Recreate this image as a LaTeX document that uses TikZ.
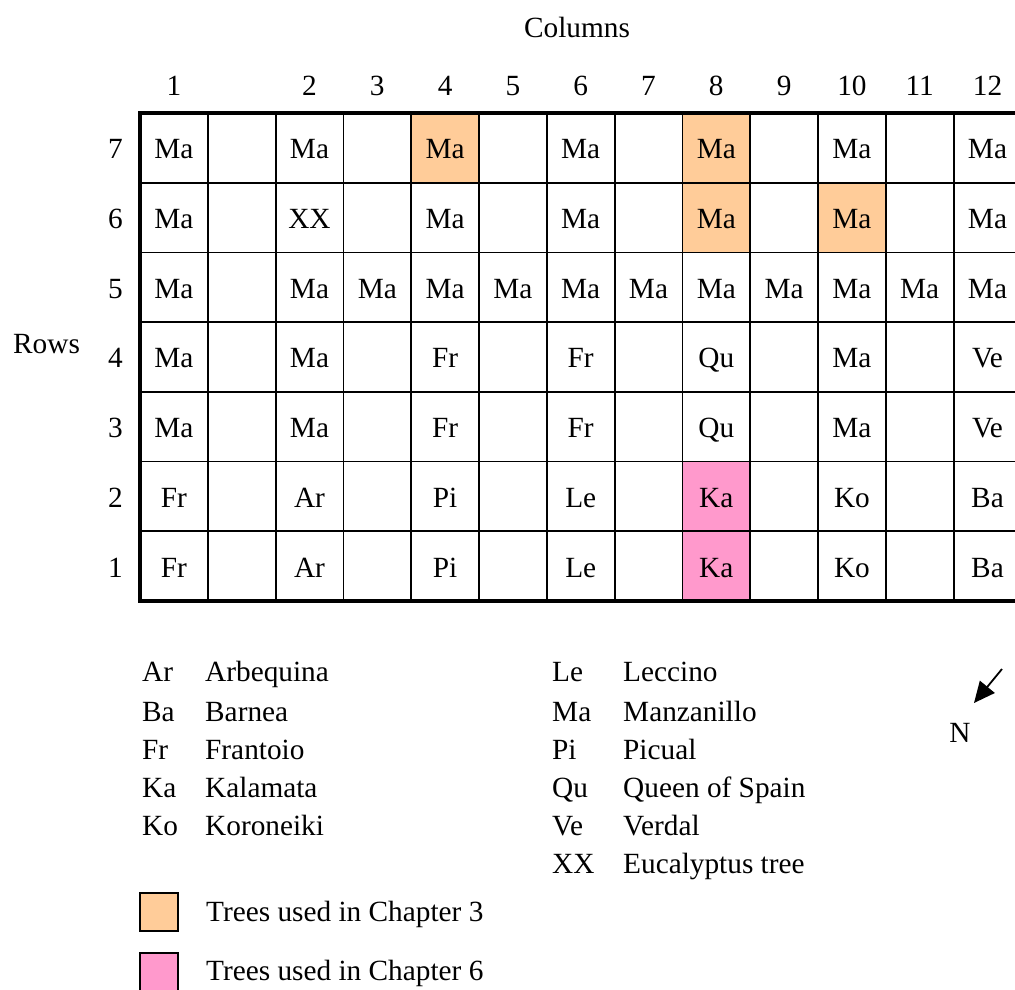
\documentclass[tikz,border=0pt]{standalone}
\usepackage{fontspec}
\setmainfont{Liberation Serif}
\usetikzlibrary{arrows.meta}
\definecolor{chthree}{HTML}{FFCC99}
\definecolor{chsix}{HTML}{FF99CC}
\begin{document}
\begin{tikzpicture}[x=1pt,y=-1pt,
  font=\fontsize{29.3pt}{35pt}\selectfont,
  lbl/.style={inner sep=0pt, anchor=base},
  lbll/.style={inner sep=0pt, anchor=base west},
  gridline/.style={line width=1.8pt, line cap=rect},
  border/.style={line width=4.4pt, line join=miter},
  swatch/.style={draw, line width=2pt},
  pointer/.style={line width=1.8pt, -{Triangle[length=21pt,width=19pt]}}]
\useasboundingbox (0,0) rectangle (1015,989);
\clip (0,0) rectangle (1015,989);

% coloured cells (column g, row r)
\foreach \g/\r/\c in {5/7/chthree, 9/7/chthree, 9/6/chthree, 11/6/chthree, 9/2/chsix, 9/1/chsix}
  \fill[\c] ({140+(\g-1)*67.8},{113+(7-\r)*69.7}) rectangle ++(67.8,69.7);

% grid lines
\foreach \k in {1,...,6}
  \draw[gridline] (140,{113+\k*69.7}) -- (1025,{113+\k*69.7});
\foreach \k in {1,...,12}
  \draw[gridline] ({140+\k*67.8},113) -- ({140+\k*67.8},601);
\draw[border] (1025,113) -- (140,113) -- (140,601) -- (1025,601);

% cell texts
\foreach \r/\lst in {
  7/{1/Ma,3/Ma,5/Ma,7/Ma,9/Ma,11/Ma,13/Ma},
  6/{1/Ma,3/XX,5/Ma,7/Ma,9/Ma,11/Ma,13/Ma},
  5/{1/Ma,3/Ma,4/Ma,5/Ma,6/Ma,7/Ma,8/Ma,9/Ma,10/Ma,11/Ma,12/Ma,13/Ma},
  4/{1/Ma,3/Ma,5/Fr,7/Fr,9/Qu,11/Ma,13/Ve},
  3/{1/Ma,3/Ma,5/Fr,7/Fr,9/Qu,11/Ma,13/Ve},
  2/{1/Fr,3/Ar,5/Pi,7/Le,9/Ka,11/Ko,13/Ba},
  1/{1/Fr,3/Ar,5/Pi,7/Le,9/Ka,11/Ko,13/Ba}}
  \foreach \g/\t in \lst
    \node[lbl] (c\r-\g) at ({140+(\g-0.5)*67.8},{113+(7.5-\r)*69.7+11}) {\t};

% headers
\node[lbl] (colstitle) at (577,37) {Columns};
\foreach \g/\t in {1/1,3/2,4/3,5/4,6/5,7/6,8/7,9/8,10/9,11/10,12/11,13/12}
  \node[lbl] (h\g) at ({140+(\g-0.5)*67.8},95) {\t};
\foreach \r in {1,...,7}
  \node[lbl] (rl\r) at (115.5,{113+(7.5-\r)*69.7+11}) {\r};
\node[lbll] (rowstitle) at (13,353) {Rows};

% legend
\foreach \y/\a/\n [count=\i] in {681.5/Ar/Arbequina, 721/Ba/Barnea, 759.5/Fr/Frantoio, 797.5/Ka/Kalamata, 835/Ko/Koroneiki}{
  \node[lbll] (la\i) at (142,\y) {\a};
  \node[lbll] (ln\i) at (205,\y) {\n};
}
\foreach \y/\a/\n [count=\i] in {681.5/Le/Leccino, 721/Ma/Manzanillo, 759.5/Pi/Picual, 797.5/Qu/Queen of Spain, 835/Ve/Verdal, 873/XX/Eucalyptus tree}{
  \node[lbll] (ra\i) at (552,\y) {\a};
  \node[lbll] (rn\i) at (623,\y) {\n};
}

\draw[swatch, fill=chthree] (140,893) rectangle (178,931);
\node[lbll] (leg3) at (206,921.5) {Trees used in Chapter 3};
\draw[swatch, fill=chsix] (140,953) rectangle (178,993);
\node[lbll] (leg6) at (206,980) {Trees used in Chapter 6};

% north arrow
\coordinate (arrS) at (1002,669);
\coordinate (arrE) at (974,703);
\draw[pointer] (arrS) -- (arrE);
\node[lbl] (north) at (960,742) {N};
\end{tikzpicture}
\end{document}
